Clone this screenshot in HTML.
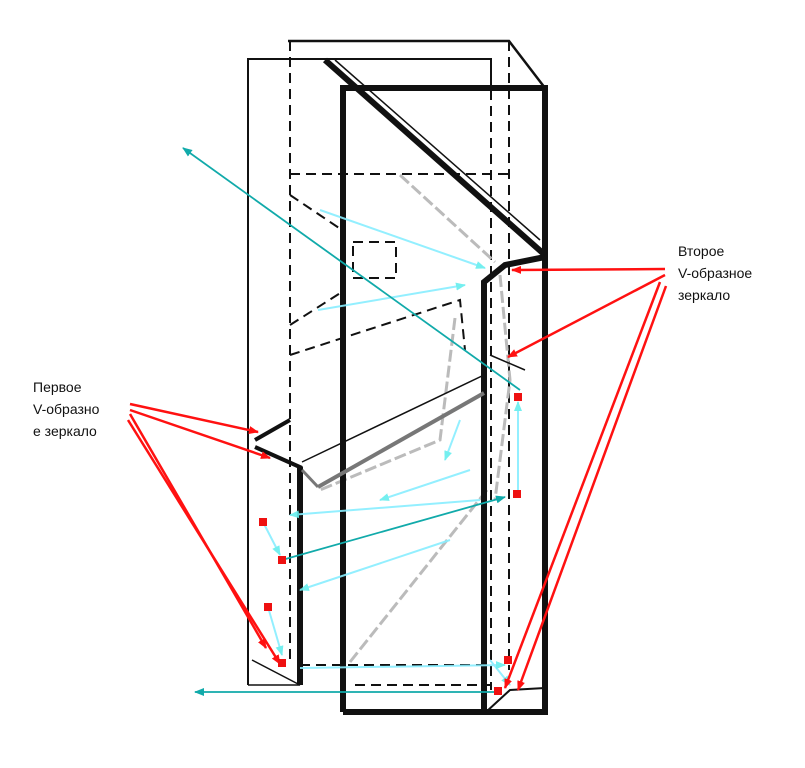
<!DOCTYPE html>
<html><head><meta charset="utf-8"><style>body{margin:0;background:#fff}svg{display:block}text{font-family:"Liberation Sans",sans-serif;font-size:14px;fill:#111}</style></head><body>
<svg width="805" height="768" viewBox="0 0 805 768">
<defs>
<marker id="r" markerWidth="10" markerHeight="8" refX="9" refY="4" orient="auto" markerUnits="userSpaceOnUse"><path d="M0,0L10,4L0,8z" fill="#f11"/></marker>
<marker id="c" markerWidth="10" markerHeight="8" refX="9" refY="4" orient="auto" markerUnits="userSpaceOnUse"><path d="M0,0L10,4L0,8z" fill="#6ee"/></marker>
<marker id="t" markerWidth="10" markerHeight="8" refX="9" refY="4" orient="auto" markerUnits="userSpaceOnUse"><path d="M0,0L10,4L0,8z" fill="#1aa"/></marker>
</defs>
<g fill="none" stroke="#111">
<!-- back outlines -->
<path d="M288,41H509L545,88" stroke-width="2.5"/>
<path d="M248,685V59H491V90" stroke-width="2"/>
<path d="M248,685H300L252,660" stroke-width="1.5"/>
<!-- dashed -->
<g stroke-dasharray="10,6" stroke-width="2">
<path d="M290,41V665"/><path d="M491,90V690"/><path d="M509,41V670"/>
<path d="M290,174H510"/><path d="M300,665H490"/><path d="M355,685H490"/>
<rect x="353" y="242" width="43" height="36"/>
<path d="M290,195L345,232"/><path d="M290,325L345,290"/><path d="M290,355L460,300L465,350"/>
</g>
<g stroke="#bbb" stroke-width="3" stroke-dasharray="12,4"><path d="M400,175L495,262"/><path d="M350,662L487,490"/><path d="M500,275L510,380L495,500"/><path d="M455,318L440,440L320,490"/></g>
<!-- front box -->
<path d="M343,712V88H545V712H343" stroke-width="6"/>
<path d="M325,60L545,255" stroke-width="6"/>
<path d="M335,60L540,240" stroke-width="1.5"/>
<path d="M484,712V282L505,265L545,257" stroke-width="6"/>
<path d="M490,355L525,370" stroke-width="1.5"/>
<!-- left front piece -->
<path d="M300,685V467" stroke-width="6"/>
<path d="M255,440L290,420" stroke-width="4"/>
<path d="M255,447L302,468" stroke-width="4"/>
<path d="M302,462L484,375" stroke-width="1.5"/>
<path d="M318,487L484,393" stroke="#777" stroke-width="4"/>
<path d="M302,470L318,487" stroke="#777" stroke-width="3"/>
<path d="M486,712L510,690L545,688" stroke-width="2"/>
</g>
<!-- cyan light rays -->
<g stroke="#8ef" stroke-width="2" fill="none" marker-end="url(#c)" opacity="0.9">
<path d="M320,210L485,268"/><path d="M318,310L465,285"/><path d="M460,420L445,460"/>
<path d="M470,470L380,500"/><path d="M450,540L300,590"/><path d="M480,500L290,515"/>
<path d="M263,522L280,555"/><path d="M268,607L282,655"/><path d="M518,494L518,402"/>
<path d="M490,660L510,685"/><path d="M300,668L505,665"/>
</g>
<g stroke="#1aa" stroke-width="1.8" fill="none" marker-end="url(#t)">
<path d="M520,390L183,148"/><path d="M500,692L195,692"/><path d="M282,560L505,497"/>
</g>
<!-- red arrows -->
<g stroke="#f11" stroke-width="2.5" fill="none" marker-end="url(#r)">
<path d="M130,404L258,432"/><path d="M130,410L270,458"/><path d="M130,414L266,648"/><path d="M128,420L280,664"/>
<path d="M665,269L512,270"/><path d="M665,275L508,357"/><path d="M660,282L505,688"/><path d="M666,286L518,690"/>
</g>
<g fill="#e11">
<rect x="259" y="518" width="8" height="8"/><rect x="278" y="556" width="8" height="8"/><rect x="264" y="603" width="8" height="8"/><rect x="278" y="659" width="8" height="8"/>
<rect x="514" y="393" width="8" height="8"/><rect x="513" y="490" width="8" height="8"/><rect x="504" y="656" width="8" height="8"/><rect x="494" y="687" width="8" height="8"/>
</g>
<text x="678" y="256">Второе</text><text x="678" y="278">V-образное</text><text x="678" y="300">зеркало</text>
<text x="33" y="392">Первое</text><text x="33" y="414">V-образно</text><text x="33" y="436">е зеркало</text>
</svg>
</body></html>
